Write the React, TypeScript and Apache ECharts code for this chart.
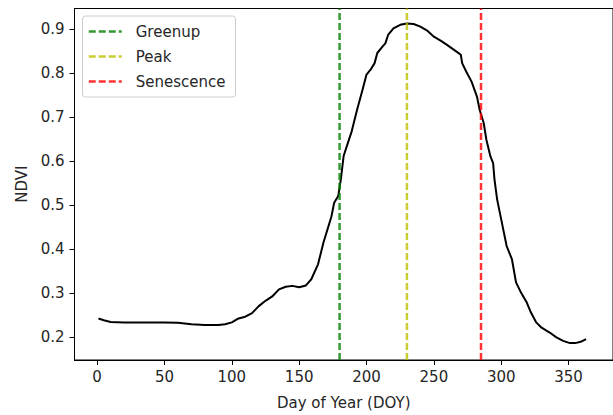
import React, { useEffect, useRef } from "react";
import * as echarts from "echarts";

const doy = [1, 5, 10, 20, 30, 40, 50, 60, 70, 80, 90, 95, 100, 105, 110, 115, 120, 125, 130, 135, 140, 145, 150, 155, 157, 159, 164, 168, 171, 174, 176, 179, 181, 183, 186, 189, 193, 197, 200, 203, 206, 208, 212, 214, 216, 220, 225, 230, 235, 240, 245, 250, 255, 260, 265, 270, 271, 274, 278, 282, 284, 287, 289, 292, 294, 295, 297, 300, 304, 308, 311, 315, 319, 322, 326, 330, 336, 341, 346, 351, 355, 359, 363];
const ndvi = [0.243, 0.239, 0.235, 0.234, 0.234, 0.234, 0.234, 0.233, 0.230, 0.228, 0.228, 0.230, 0.234, 0.243, 0.247, 0.255, 0.271, 0.283, 0.293, 0.309, 0.315, 0.317, 0.314, 0.318, 0.325, 0.332, 0.366, 0.415, 0.445, 0.475, 0.506, 0.521, 0.56, 0.612, 0.64, 0.668, 0.717, 0.762, 0.797, 0.808, 0.823, 0.846, 0.861, 0.868, 0.887, 0.902, 0.910, 0.913, 0.912, 0.906, 0.897, 0.883, 0.874, 0.864, 0.853, 0.842, 0.823, 0.804, 0.781, 0.747, 0.717, 0.687, 0.649, 0.611, 0.596, 0.559, 0.513, 0.468, 0.408, 0.377, 0.325, 0.300, 0.279, 0.257, 0.234, 0.222, 0.211, 0.200, 0.192, 0.187, 0.187, 0.190, 0.196];

const phaseNames = ["Greenup", "Peak", "Senescence"];
const phaseDays = [180, 230, 285];
const phaseColors = ["rgba(0,128,0,0.8)", "rgba(191,191,0,0.8)", "rgba(255,0,0,0.8)"];

const xTicks = [0, 50, 100, 150, 200, 250, 300, 350];
const yTicks = [0.2, 0.3, 0.4, 0.5, 0.6, 0.7, 0.8, 0.9];

const X_MIN = -16.8;
const X_MAX = 383;
const Y_MIN = 0.1486;
const Y_MAX = 0.9471;

const FONT = "DejaVu Sans";

export default function App() {
  const ref = useRef<HTMLDivElement>(null);
  useEffect(() => {
    if (!ref.current) return;
    const chart = echarts.init(ref.current, null, { renderer: "svg" });
    const phaseSeries = phaseNames.map((name, i) => ({
      name,
      type: "line",
      data: [
        [phaseDays[i], Y_MIN],
        [phaseDays[i], Y_MAX],
      ],
      symbol: "none",
      lineStyle: { color: phaseColors[i], width: 2.5, type: [7, 3] },
      itemStyle: { color: phaseColors[i] },
      z: 3,
    }));
    chart.setOption({
      animation: false,
      grid: {
        left: 74.5,
        top: 8.5,
        width: 543,
        height: 352.5,
        show: true,
        borderColor: "#000",
        borderWidth: 1,
        containLabel: false,
      },
      legend: {
        data: phaseNames,
        orient: "vertical",
        left: 82.5,
        top: 16,
        itemWidth: 33,
        itemHeight: 14,
        itemGap: 10,
        padding: [8, 10, 8, 5],
        backgroundColor: "rgba(255,255,255,0.8)",
        borderColor: "#cccccc",
        borderWidth: 1,
        borderRadius: 3,
        itemStyle: { opacity: 0 },
        lineStyle: { width: 2.5 },
        textStyle: { fontFamily: FONT, fontSize: 15, color: "#262626", padding: [0, 0, 0, 9] },
      },
      xAxis: {
        type: "value",
        min: X_MIN,
        max: X_MAX,
        name: "Day of Year (DOY)",
        nameLocation: "middle",
        nameGap: 35,
        nameTextStyle: { fontFamily: FONT, fontSize: 15, color: "#262626" },
        splitLine: { show: false },
        axisLine: { show: true, onZero: false, lineStyle: { color: "#000", width: 1 } },
        axisTick: { show: true, length: 5, customValues: xTicks, lineStyle: { color: "#000" } },
        axisLabel: { customValues: xTicks, margin: 9, fontFamily: FONT, fontSize: 15, color: "#262626" },
      },
      yAxis: {
        type: "value",
        min: Y_MIN,
        max: Y_MAX,
        name: "NDVI",
        nameLocation: "middle",
        nameGap: 44,
        nameRotate: 90,
        nameTextStyle: { fontFamily: FONT, fontSize: 15, color: "#262626" },
        splitLine: { show: false },
        axisLine: { show: true, onZero: false, lineStyle: { color: "#000", width: 1 } },
        axisTick: { show: true, length: 5, customValues: yTicks, lineStyle: { color: "#000" } },
        axisLabel: {
          customValues: yTicks,
          margin: 10,
          fontFamily: FONT,
          fontSize: 15,
          color: "#262626",
          formatter: (v: number) => v.toFixed(1),
        },
      },
      series: [
        {
          name: "NDVI",
          type: "line",
          data: doy.map((d, i) => [d, ndvi[i]]),
          symbol: "none",
          lineStyle: { color: "#000", width: 2 },
          z: 2,
        },
        ...phaseSeries,
      ],
    });
    return () => chart.dispose();
  }, []);
  return (
    <div
      ref={ref}
      style={{ position: "absolute", left: 0, top: 0, width: 613, height: 415, background: "#fff" }}
    />
  );
}
